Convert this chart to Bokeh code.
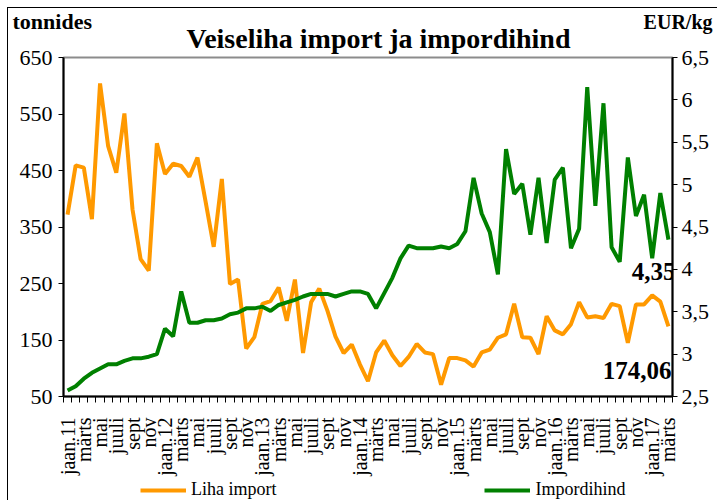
import math
from bokeh.plotting import figure
from bokeh.layouts import column
from bokeh.models import Range1d, LinearAxis, FixedTicker, Label, Legend, LegendItem
from bokeh.embed import file_html
from bokeh.resources import INLINE
from bokeh.core.properties import value

# ---- data -------------------------------------------------------------
month_names = ["jaan", "veebr", "märts", "apr", "mai", "juuni",
               "juuli", "aug", "sept", "okt", "nov", "dets"]
years = ["11", "12", "13", "14", "15", "16", "17"]

# monthly import volume, tonnes (jaan.11 ... märts.17)
imports = [372, 459, 455, 364, 604, 493, 446, 551, 381, 293, 273, 498,
           444, 462, 458, 439, 473, 395, 315, 435, 249, 257, 135, 155,
           214, 219, 243, 184, 257, 127, 217, 241, 202, 156, 127, 142,
           107, 77, 128, 149, 123, 104, 120, 143, 128, 125, 71, 118,
           118, 114, 103, 128, 133, 154, 160, 214, 155, 154, 125, 192,
           167, 160, 178, 217, 190, 192, 189, 214, 210, 145, 213, 213,
           229, 218, 174.06]

# monthly import price, EUR/kg
prices = [2.57, 2.62, 2.71, 2.78, 2.83, 2.88, 2.88, 2.92, 2.95, 2.95, 2.97, 3.00,
          3.30, 3.21, 3.74, 3.37, 3.37, 3.40, 3.40, 3.42, 3.47, 3.49, 3.54, 3.54,
          3.56, 3.51, 3.58, 3.61, 3.64, 3.68, 3.71, 3.71, 3.71, 3.68, 3.71, 3.74,
          3.74, 3.71, 3.54, 3.72, 3.90, 4.13, 4.28, 4.25, 4.25, 4.25, 4.27, 4.25,
          4.30, 4.45, 5.08, 4.66, 4.44, 3.94, 5.42, 4.89, 5.01, 4.41, 5.08, 4.31,
          5.06, 5.20, 4.25, 4.48, 6.15, 4.75, 5.96, 4.26, 4.09, 5.32, 4.63, 4.88,
          4.13, 4.90, 4.35]

left_ticks = [50, 150, 250, 350, 450, 550, 650]
right_ticks = [2.5, 3, 3.5, 4, 4.5, 5, 5.5, 6, 6.5]
right_tick_labels = ["2,5", "3", "3,5", "4", "4,5", "5", "5,5", "6", "6,5"]

title_text = "Veiseliha import ja impordihind"
left_unit = "tonnides"
right_unit = "EUR/kg"
series_names = ["Liha import", "Impordihind"]
last_import_label = "174,06"
last_price_label = "4,35"

categories = []
for i in range(len(imports)):
    m = month_names[i % 12]
    y = years[i // 12]
    categories.append(m + "." + y if m == "jaan" else m)

x = list(range(len(categories)))
label_idx = [i for i in x if i % 2 == 0]

FONT = "Liberation Serif"
ORANGE = "#FF9900"
GREEN = "#008000"
W = 709
HEAD_H = 49
OVERLAP = 20
FOOT_H = 20
MAIN_H = 443


def bare(fig):
    fig.xgrid.visible = False
    fig.ygrid.visible = False
    fig.outline_line_color = None
    fig.background_fill_color = None
    fig.border_fill_color = None
    fig.min_border = 0
    fig.frame_align = False


# ---- header (title and unit labels) ----------------------------------
head = figure(width=W, height=HEAD_H, output_backend="svg", toolbar_location=None,
              x_range=Range1d(0, W), y_range=Range1d(0, HEAD_H),
              x_axis_location=None, y_axis_location=None, title=None)
bare(head)
head.text(x=[370], y=[19], text=[title_text], text_font=value(FONT),
          text_font_size="28px", text_font_style="bold", text_color="black",
          text_align="center", text_baseline="middle")
head.text(x=[4], y=[36], text=[left_unit], text_font=value(FONT),
          text_font_size="22px", text_font_style="bold", text_color="black",
          text_align="left", text_baseline="middle")
head.text(x=[704], y=[36], text=[right_unit], text_font=value(FONT),
          text_font_size="20px", text_font_style="bold", text_color="black",
          text_align="right", text_baseline="middle")

# ---- main chart --------------------------------------------------------
p = figure(width=W, height=MAIN_H, output_backend="svg", toolbar_location=None,
           x_range=Range1d(-0.5, len(x) - 0.5),
           y_range=Range1d(left_ticks[0], left_ticks[-1]),
           min_border_left=55, min_border_right=45, min_border_top=OVERLAP,
           min_border_bottom=84, title=None)
p.frame_align = False
p.styles = {"margin-top": f"-{OVERLAP}px"}
p.extra_y_ranges = {"price": Range1d(right_ticks[0], right_ticks[-1])}
p.xgrid.visible = False
p.ygrid.visible = False
p.background_fill_color = "white"
p.border_fill_color = None
p.outline_line_color = "#8c8c8c"
p.outline_line_width = 2

la = p.yaxis[0]
la.ticker = FixedTicker(ticks=left_ticks)
la.axis_line_color = "black"
la.axis_line_width = 2
la.major_tick_out = 5
la.major_tick_in = 0
la.minor_tick_line_color = None
la.major_label_text_font = FONT
la.major_label_text_font_size = "22px"
la.major_label_text_color = "black"
la.major_label_standoff = 6

ra = LinearAxis(y_range_name="price")
ra.ticker = FixedTicker(ticks=right_ticks)
ra.major_label_overrides = {t: s for t, s in zip(right_ticks, right_tick_labels)}
ra.axis_line_color = "black"
ra.axis_line_width = 2
ra.major_tick_out = 5
ra.major_tick_in = 0
ra.minor_tick_line_color = None
ra.major_label_text_font = FONT
ra.major_label_text_font_size = "22px"
ra.major_label_text_color = "black"
ra.major_label_standoff = 4
p.add_layout(ra, "right")

xa = p.xaxis[0]
xa.ticker = FixedTicker(ticks=label_idx, minor_ticks=[i - 0.5 for i in range(len(x) + 1)])
xa.major_label_overrides = {i: categories[i] for i in label_idx}
xa.major_label_orientation = math.pi / 2
xa.major_tick_out = 0
xa.major_tick_in = 0
xa.minor_tick_out = 6
xa.minor_tick_in = 0
xa.minor_tick_line_color = "black"
xa.axis_line_color = "black"
xa.axis_line_width = 2
xa.major_label_text_font = FONT
xa.major_label_text_font_size = "20px"
xa.major_label_text_color = "black"
xa.major_label_standoff = 15

r1 = p.line(x, imports, line_color=ORANGE, line_width=4)
r2 = p.line(x, prices, y_range_name="price", line_color=GREEN, line_width=4)

p.add_layout(Label(x=len(x) - 0.5, y=3.97, y_range_name="price", x_offset=3,
                   text=last_price_label, text_font=FONT, text_font_size="25px",
                   text_font_style="bold", text_color="black",
                   text_align="right", text_baseline="middle"))
p.add_layout(Label(x=len(x) - 0.5, y=96, x_offset=-1,
                   text=last_import_label, text_font=FONT, text_font_size="25px",
                   text_font_style="bold", text_color="black",
                   text_align="right", text_baseline="middle"))

# ---- footer with legend -------------------------------------------------
foot = figure(width=W, height=FOOT_H, output_backend="svg", toolbar_location=None,
              x_range=Range1d(0, W), y_range=Range1d(-FOOT_H, 0),
              x_axis_location=None, y_axis_location=None, title=None)
bare(foot)
# same series, lying outside this strip's ranges: only their legend swatches show
d1 = foot.line(x, imports, line_color=ORANGE, line_width=4)
d2 = foot.line(x, prices, line_color=GREEN, line_width=4)
legend = Legend(items=[LegendItem(label=series_names[0], renderers=[d1]),
                       LegendItem(label=series_names[1], renderers=[d2])],
                orientation="horizontal", location=(132, 0),
                padding=0, margin=0, spacing=208, glyph_width=46, glyph_height=20,
                label_standoff=5, border_line_color=None, background_fill_alpha=0,
                label_text_font=FONT, label_text_font_size="18px",
                label_text_color="black")
foot.add_layout(legend)

layout = column(head, p, foot, spacing=0)
layout.styles = {"margin-left": "7px", "margin-top": "7px",
                 "border-left": "1px solid black", "border-top": "1px solid black"}

open("out.html", "w").write(file_html(layout, INLINE))
